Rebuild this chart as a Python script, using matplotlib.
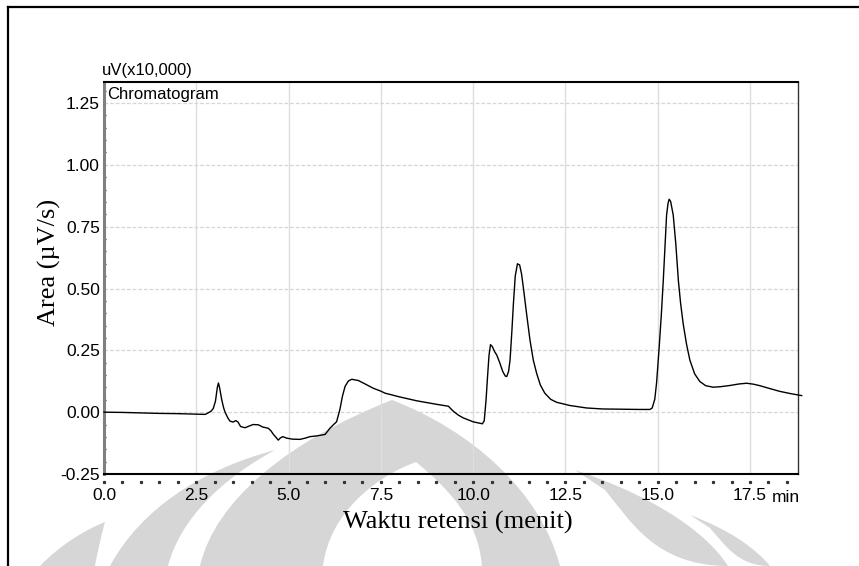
import matplotlib
matplotlib.use("Agg")
import matplotlib.pyplot as plt
import numpy as np
from matplotlib.path import Path
from matplotlib.patches import PathPatch

W, H = 859, 566

# retention time (min) and detector signal (uV x10,000)
time_min = [
    0.00, 0.50, 1.00, 1.50, 2.00, 2.50, 2.74, 2.82, 2.90, 2.96, 3.02, 3.07, 3.10, 3.13,
    3.19, 3.24, 3.28, 3.35, 3.41, 3.50, 3.57, 3.63, 3.70, 3.82, 3.95, 4.04, 4.18, 4.30,
    4.45, 4.52, 4.59, 4.66, 4.72, 4.78, 4.84, 4.95, 5.10, 5.31, 5.45, 5.58, 5.76, 5.99,
    6.12, 6.22, 6.30, 6.39, 6.46, 6.53, 6.62, 6.71, 6.89, 7.10, 7.29, 7.50, 7.61, 8.00,
    8.47, 9.00, 9.33, 9.46, 9.60, 9.73, 10.00, 10.25, 10.30, 10.35, 10.39, 10.43, 10.47,
    10.52, 10.58, 10.64, 10.72, 10.80, 10.87, 10.91, 10.96, 11.00, 11.05, 11.09, 11.14,
    11.20, 11.26, 11.31, 11.36, 11.45, 11.54, 11.63, 11.72, 11.82, 11.94, 12.10, 12.26,
    12.62, 13.07, 13.50, 13.98, 14.50, 14.79, 14.85, 14.92, 14.97, 15.00, 15.04, 15.10,
    15.15, 15.20, 15.24, 15.28, 15.31, 15.35, 15.42, 15.49, 15.56, 15.62, 15.69, 15.78,
    15.87, 16.00, 16.14, 16.30, 16.50, 16.70, 16.96, 17.20, 17.41, 17.60, 17.77, 18.00,
    18.31, 18.60, 18.90,
]
signal = [
    0.000, -0.001, -0.003, -0.005, -0.006, -0.008, -0.009, -0.003, 0.004, 0.015, 0.045,
    0.100, 0.118, 0.100, 0.050, 0.018, 0.000, -0.022, -0.036, -0.040, -0.034, -0.040,
    -0.058, -0.063, -0.055, -0.050, -0.051, -0.060, -0.065, -0.075, -0.090, -0.102,
    -0.113, -0.104, -0.099, -0.105, -0.109, -0.110, -0.105, -0.099, -0.096, -0.090,
    -0.065, -0.050, -0.039, 0.011, 0.065, 0.104, 0.126, 0.133, 0.128, 0.112, 0.097,
    0.085, 0.077, 0.062, 0.046, 0.032, 0.024, 0.004, -0.012, -0.023, -0.039, -0.047,
    -0.035, 0.050, 0.144, 0.230, 0.273, 0.265, 0.245, 0.231, 0.200, 0.165, 0.146,
    0.144, 0.165, 0.211, 0.330, 0.437, 0.550, 0.600, 0.595, 0.560, 0.504, 0.395,
    0.291, 0.210, 0.157, 0.110, 0.077, 0.052, 0.040, 0.027, 0.017, 0.013, 0.012,
    0.011, 0.011, 0.017, 0.052, 0.120, 0.180, 0.264, 0.400, 0.531, 0.680, 0.797,
    0.845, 0.861, 0.852, 0.797, 0.680, 0.531, 0.440, 0.357, 0.275, 0.211, 0.155,
    0.124, 0.107, 0.101, 0.103, 0.108, 0.114, 0.117, 0.113, 0.107, 0.097, 0.084,
    0.075, 0.067,
]

x_ticks = [0.0, 2.5, 5.0, 7.5, 10.0, 12.5, 15.0, 17.5]
x_tick_labels = ["0.0", "2.5", "5.0", "7.5", "10.0", "12.5", "15.0", "17.5"]
y_ticks = [-0.25, 0.00, 0.25, 0.50, 0.75, 1.00, 1.25]
y_tick_labels = ["-0.25", "0.00", "0.25", "0.50", "0.75", "1.00", "1.25"]

NARROW = ["Liberation Sans Narrow", "Liberation Sans", "DejaVu Sans"]
SERIF = ["Liberation Serif", "DejaVu Serif"]


def fx(x):
    return x / W


def fy(y):
    return 1 - y / H


def crescent(ax, pts, color):
    # pts: start, then (c1, c2, end) cubic segments, all in pixel coords
    verts = [pts[0]]
    codes = [Path.MOVETO]
    for seg in pts[1:]:
        verts.extend(seg)
        codes.extend([Path.CURVE4] * 3)
    verts.append(pts[0])
    codes.append(Path.CLOSEPOLY)
    ax.add_patch(PathPatch(Path(verts, codes), facecolor=color, edgecolor="none"))


def draw_watermark(bg):
    grey = "#d6d6d6"
    crescent(bg, [(40, 566), ((60, 545), (85, 530), (105, 522)), ((100, 540), (97, 555), (95, 566))], grey)
    crescent(bg, [(110, 566), ((140, 510), (200, 470), (275, 450)), ((220, 480), (180, 520), (168, 566))], grey)
    crescent(bg, [(200, 566), ((215, 500), (290, 440), (392, 400)), ((470, 430), (540, 490), (560, 566))], grey)
    crescent(bg, [(323, 566), ((330, 510), (380, 475), (416, 462)), ((450, 490), (478, 520), (482, 566))], "white")
    crescent(bg, [(575, 470), ((650, 495), (705, 530), (728, 566)), ((655, 566), (630, 520), (605, 490))], grey)
    crescent(bg, [(690, 515), ((730, 530), (755, 548), (770, 566)), ((738, 566), (725, 545), (710, 528))], grey)


fig = plt.figure(figsize=(W / 100, H / 100), dpi=100)
fig.patch.set_facecolor("white")

bg = fig.add_axes([0, 0, 1, 1], zorder=0)
bg.set_xlim(0, W)
bg.set_ylim(H, 0)
bg.axis("off")
draw_watermark(bg)
bg.plot([8, 8], [H, 7], color="black", lw=1.6, solid_capstyle="projecting")
bg.plot([8, W], [7, 7], color="black", lw=1.6, solid_capstyle="projecting")

left, right, top, bottom = 104, 798, 82, 474
ax = fig.add_axes([fx(left), fy(bottom), fx(right - left), (bottom - top) / H], zorder=1)
ax.patch.set_alpha(0)

ax.plot(time_min, signal, color="black", lw=1.0, clip_on=False, zorder=3)

ax.set_xlim(0, 18.8)
ax.set_ylim(-0.25, 1.335)

ax.set_xticks(x_ticks)
ax.set_xticklabels(x_tick_labels, family=NARROW, fontsize=12.5)
ax.set_yticks(y_ticks)
ax.set_yticklabels(y_tick_labels, family=NARROW, fontsize=12.5)
ax.tick_params(axis="x", length=0, pad=10)
ax.tick_params(axis="y", length=0, pad=3)
ax.set_yticks(np.arange(-0.25, 1.33, 0.05), minor=True)
ax.tick_params(axis="y", which="minor", direction="in", length=1.5, width=1, color="#333333")

for xv in x_ticks:
    ax.axvline(xv, color="#dedede", lw=1, zorder=1)
for yv in y_ticks[1:]:
    ax.axhline(yv, color="#d6d6d6", lw=0.9, ls=(0, (3, 1.5)), zorder=1)

# dotted minor marks under the time axis
dots = np.arange(0, 18.81, 0.5)
ax.plot(dots, np.full(len(dots), -0.021), ls="none", marker="s", ms=1.3, color="#333333",
        transform=ax.get_xaxis_transform(), clip_on=False)

ax.spines["top"].set_color("black")
ax.spines["top"].set_linewidth(1.5)
ax.spines["bottom"].set_color("black")
ax.spines["bottom"].set_linewidth(1.5)
ax.spines["right"].set_color("#333333")
ax.spines["right"].set_linewidth(1.0)
ax.spines["left"].set_color("#808080")
ax.spines["left"].set_linewidth(2.2)

fig.text(fx(102), fy(70), "uV(x10,000)", family=NARROW, fontsize=12, ha="left", va="center")
fig.text(fx(107), fy(95), "Chromatogram", family=NARROW, fontsize=12, ha="left", va="center")
fig.text(fx(800), fy(497), "min", family=NARROW, fontsize=12.5, ha="right", va="center")

fig.text(fx(458), fy(522), "Waktu retensi (menit)", family=SERIF, fontsize=19, ha="center", va="center")
fig.text(fx(49), fy(262), "Area (µV/s)", family=SERIF, fontsize=19, ha="center", va="center",
         rotation=90)

fig.savefig("out.png", dpi=100, facecolor="white")
